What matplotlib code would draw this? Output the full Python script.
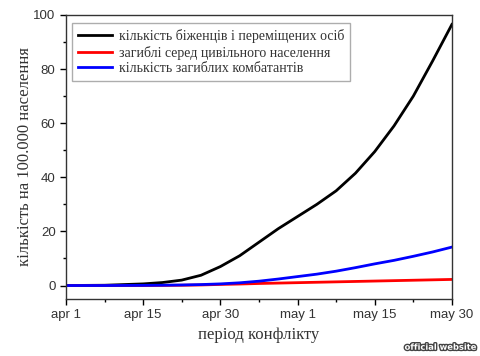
# Refugees / casualties per 100,000 population over the conflict period
import matplotlib.pyplot as plt
import matplotlib.patheffects as pe
from matplotlib.ticker import MultipleLocator

# positions along the x axis (tick index), read at quarter steps
x_pos = [0, 0.5, 1, 1.25, 1.5, 1.75, 2, 2.25, 2.5, 2.75, 3, 3.25, 3.5, 3.75, 4, 4.25, 4.5, 4.75, 5]
refugees = [0, 0.1, 0.6, 1.1, 2.0, 3.8, 7.0, 11.0, 16.0, 21.0, 25.5, 30.0, 35.0, 41.5, 49.5, 59.0, 70.0, 83.0, 96.5]
civilians = [0, 0, 0, 0.05, 0.1, 0.2, 0.4, 0.55, 0.75, 0.9, 1.05, 1.2, 1.35, 1.5, 1.65, 1.8, 1.95, 2.1, 2.25]
combatants = [0, 0, 0.05, 0.1, 0.2, 0.35, 0.6, 1.0, 1.6, 2.4, 3.3, 4.2, 5.3, 6.6, 8.0, 9.3, 10.8, 12.4, 14.2]

tick_labels = ["apr 1", "apr 15", "apr 30", "may 1", "may 15", "may 30"]
legend_labels = ["кількість біженців і переміщених осіб",
                 "загиблі серед цивільного населення",
                 "кількість загиблих комбатантів"]

serif = ["Liberation Serif", "DejaVu Serif"]

fig = plt.figure(figsize=(4.8, 3.56), dpi=100)
ax = fig.add_axes([0.1375, 0.160, 0.804, 0.798])

ax.plot(x_pos, refugees, color="black", lw=2, label=legend_labels[0])
ax.plot(x_pos, civilians, color="red", lw=2, label=legend_labels[1])
ax.plot(x_pos, combatants, color="blue", lw=2, label=legend_labels[2])

ax.set_xlim(0, 5)
ax.set_ylim(-5, 100)
ax.set_xticks(range(len(tick_labels)))
ax.set_xticklabels(tick_labels, family="Liberation Sans", fontsize=9.5, color="#333333")
ax.xaxis.set_minor_locator(MultipleLocator(0.5))
ax.yaxis.set_major_locator(MultipleLocator(20))
ax.yaxis.set_minor_locator(MultipleLocator(10))
for lbl in ax.get_yticklabels():
    lbl.set_family("Liberation Sans")
    lbl.set_fontsize(9.5)
    lbl.set_color("#333333")
ax.tick_params(which="major", length=4, width=1, direction="out")
ax.tick_params(which="minor", length=2.5, width=1, direction="out")
for s in ax.spines.values():
    s.set_linewidth(1)
    s.set_color("#333333")

ax.set_xlabel("період конфлікту", family=serif, fontsize=12, color="#333333", labelpad=4)
ax.set_ylabel("кількість на 100.000 населення", family=serif, fontsize=12, color="#333333", labelpad=0)

leg = ax.legend(loc="upper left", bbox_to_anchor=(0.0155, 0.972), borderaxespad=0,
                prop={"family": serif, "size": 10},
                frameon=True, fancybox=False, handlelength=2.4, borderpad=0.45, labelspacing=0.18,
                handletextpad=0.5)
leg.get_frame().set_edgecolor("#999999")
leg.get_frame().set_linewidth(1)
for t in leg.get_texts():
    t.set_color("#333333")

fig.text(0.995, 0.012, "official website", ha="right", va="bottom", fontsize=6, color="white",
         weight="bold", path_effects=[pe.withStroke(linewidth=2, foreground="#444444")])

fig.savefig("out.png", dpi=100)
